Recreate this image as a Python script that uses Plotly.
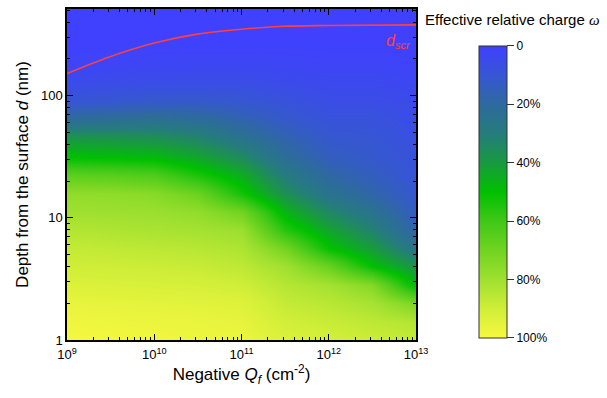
import plotly.graph_objects as go

# ---------------- data ----------------
qf_values = [1e9, 10**9.5, 1e10, 10**10.5, 1e11, 10**11.5, 1e12, 10**12.5, 1e13]   # negative Qf (cm^-2)
depth_nm = [1, 1.41, 2, 2.8, 4, 5.6, 8, 11.2, 15.8, 22.4, 31.6, 44.7, 63, 89, 126, 178, 251, 355, 525]

# effective relative charge omega (0..1) along depth_nm, one list per Qf column
omega_q9_0  = [0.99, 0.98, 0.96, 0.93, 0.90, 0.875, 0.84, 0.80, 0.77, 0.66, 0.50, 0.39, 0.22, 0.10, 0.05, 0.02, 0.005, 0.0, 0.0]
omega_q9_5  = [0.985, 0.975, 0.955, 0.925, 0.895, 0.868, 0.83, 0.795, 0.765, 0.65, 0.49, 0.38, 0.23, 0.11, 0.055, 0.022, 0.007, 0.0, 0.0]
omega_q10_0 = [0.98, 0.97, 0.95, 0.92, 0.89, 0.86, 0.82, 0.79, 0.75, 0.63, 0.48, 0.37, 0.24, 0.12, 0.06, 0.025, 0.01, 0.0, 0.0]
omega_q10_5 = [0.975, 0.965, 0.945, 0.915, 0.88, 0.85, 0.81, 0.77, 0.69, 0.54, 0.43, 0.33, 0.22, 0.12, 0.06, 0.03, 0.01, 0.0, 0.0]
omega_q11_0 = [0.97, 0.955, 0.935, 0.90, 0.86, 0.83, 0.79, 0.70, 0.53, 0.45, 0.35, 0.25, 0.17, 0.11, 0.06, 0.03, 0.01, 0.0, 0.0]
omega_q11_5 = [0.93, 0.905, 0.875, 0.845, 0.80, 0.71, 0.56, 0.47, 0.37, 0.29, 0.22, 0.17, 0.12, 0.085, 0.05, 0.025, 0.01, 0.0, 0.0]
omega_q12_0 = [0.91, 0.885, 0.85, 0.81, 0.68, 0.51, 0.43, 0.34, 0.25, 0.19, 0.14, 0.11, 0.085, 0.06, 0.04, 0.02, 0.008, 0.0, 0.0]
omega_q12_5 = [0.89, 0.86, 0.815, 0.74, 0.50, 0.41, 0.32, 0.25, 0.18, 0.14, 0.115, 0.10, 0.085, 0.06, 0.04, 0.02, 0.008, 0.0, 0.0]
omega_q13_0 = [0.87, 0.84, 0.72, 0.48, 0.38, 0.26, 0.17, 0.13, 0.105, 0.09, 0.08, 0.07, 0.06, 0.045, 0.03, 0.015, 0.005, 0.0, 0.0]
omega_columns = [omega_q9_0, omega_q9_5, omega_q10_0, omega_q10_5, omega_q11_0,
                 omega_q11_5, omega_q12_0, omega_q12_5, omega_q13_0]

# space-charge-region width d_scr (nm)
dscr_qf = [1e9, 3e9, 1e10, 3e10, 1e11, 3e11, 1e12, 1e13]
dscr_nm = [152, 207, 270, 318, 350, 370, 376, 380]

cbar_vals = [-1.0, -0.8, -0.6, -0.4, -0.2, 0.0]
cbar_text = ["100%", "80%", "60%", "40%", "20%", "0"]
x_tick_vals = [1e9, 1e10, 1e11, 1e12, 1e13]
x_tick_text = ["10<sup>9</sup>", "10<sup>10</sup>", "10<sup>11</sup>", "10<sup>12</sup>", "10<sup>13</sup>"]
y_tick_vals = [1, 10, 100]
y_tick_text = ["1", "10", "100"]

# ---------------- figure ----------------
W, H = 607, 398
L, R, T, B = 67, 416, 7, 340   # plot area in px

# colorbar runs 0 (top, blue) -> 100% (bottom, yellow): plot -omega
z = [[-col[i] for col in omega_columns] for i in range(len(depth_nm))]

colorscale = [
    [0.0, "#f8f840"],
    [0.1, "#d0ee38"],
    [0.2, "#a0e030"],
    [0.3, "#70d420"],
    [0.4, "#40c818"],
    [0.5, "#00c000"],
    [0.6, "#189a40"],
    [0.7, "#257c7c"],
    [0.8, "#2e6a9e"],
    [0.9, "#3656d4"],
    [1.0, "#4040ff"],
]

def px_to_paper_x(px):
    return (px - L) / (R - L)

def px_to_paper_y(py):
    return 1 - (py - T) / (B - T)

cb_top, cb_bot = 44, 338
fig = go.Figure()
fig.add_trace(go.Heatmap(
    x=qf_values, y=depth_nm, z=z, zmin=-1, zmax=0,
    colorscale=colorscale, zsmooth="best", hoverinfo="skip",
    colorbar=dict(
        x=px_to_paper_x(479), xanchor="left", xpad=0, ypad=0,
        y=px_to_paper_y((cb_top + cb_bot) / 2), yanchor="middle",
        len=(cb_bot - cb_top) / (B - T), lenmode="fraction",
        thickness=28, outlinewidth=1, outlinecolor="#333333",
        tickmode="array", tickvals=cbar_vals, ticktext=cbar_text,
        ticks="outside", ticklen=7, tickcolor="#333333",
        tickfont=dict(size=12, color="#000000"),
    ),
))

fig.add_trace(go.Scatter(
    x=dscr_qf, y=dscr_nm, mode="lines",
    line=dict(color="#ff4040", width=1.6, shape="spline"),
    hoverinfo="skip", showlegend=False,
))

axis_common = dict(
    type="log", showline=True, linecolor="#000000", linewidth=1.5,
    mirror="ticks", ticks="inside", ticklen=6, tickwidth=1.2, tickcolor="#000000",
    showgrid=False, zeroline=False,
    minor=dict(ticks="inside", ticklen=3, tickwidth=1, tickcolor="#000000",
               dtick="D1", showgrid=False),
    tickfont=dict(size=13, color="#000000"),
)

fig.update_layout(
    width=W, height=H,
    margin=dict(l=L, r=W - R, t=T, b=H - B),
    paper_bgcolor="white", plot_bgcolor="white",
    font=dict(family="Arial, Liberation Sans, sans-serif", color="#000000"),
    showlegend=False,
    xaxis=dict(axis_common, range=[9, 13], tickmode="array",
               tickvals=x_tick_vals, ticktext=x_tick_text, ticklabelstandoff=2,
               title=dict(text="Negative <i>Q</i><sub><i>f</i></sub> (cm<sup>-2</sup>)",
                          font=dict(size=17), standoff=6)),
    yaxis=dict(axis_common, range=[0, 2.71], tickmode="array",
               tickvals=y_tick_vals, ticktext=y_tick_text,
               title=dict(text="Depth from the surface <i>d</i> (nm)",
                          font=dict(size=17), standoff=8)),
    annotations=[
        dict(text="<i>d</i><sub><i>scr</i></sub>", xref="paper", yref="paper",
             x=px_to_paper_x(398), y=px_to_paper_y(40), xanchor="center", yanchor="middle",
             showarrow=False, font=dict(size=16, color="#ff4040")),
        dict(text="Effective relative charge <span style=\"font-family:Liberation Serif, serif\"><i>ω</i></span>",
             xref="paper", yref="paper",
             x=px_to_paper_x(423), y=px_to_paper_y(18), xanchor="left", yanchor="middle",
             showarrow=False, font=dict(size=15, color="#000000")),
    ],
)

fig.write_html("out.html")
